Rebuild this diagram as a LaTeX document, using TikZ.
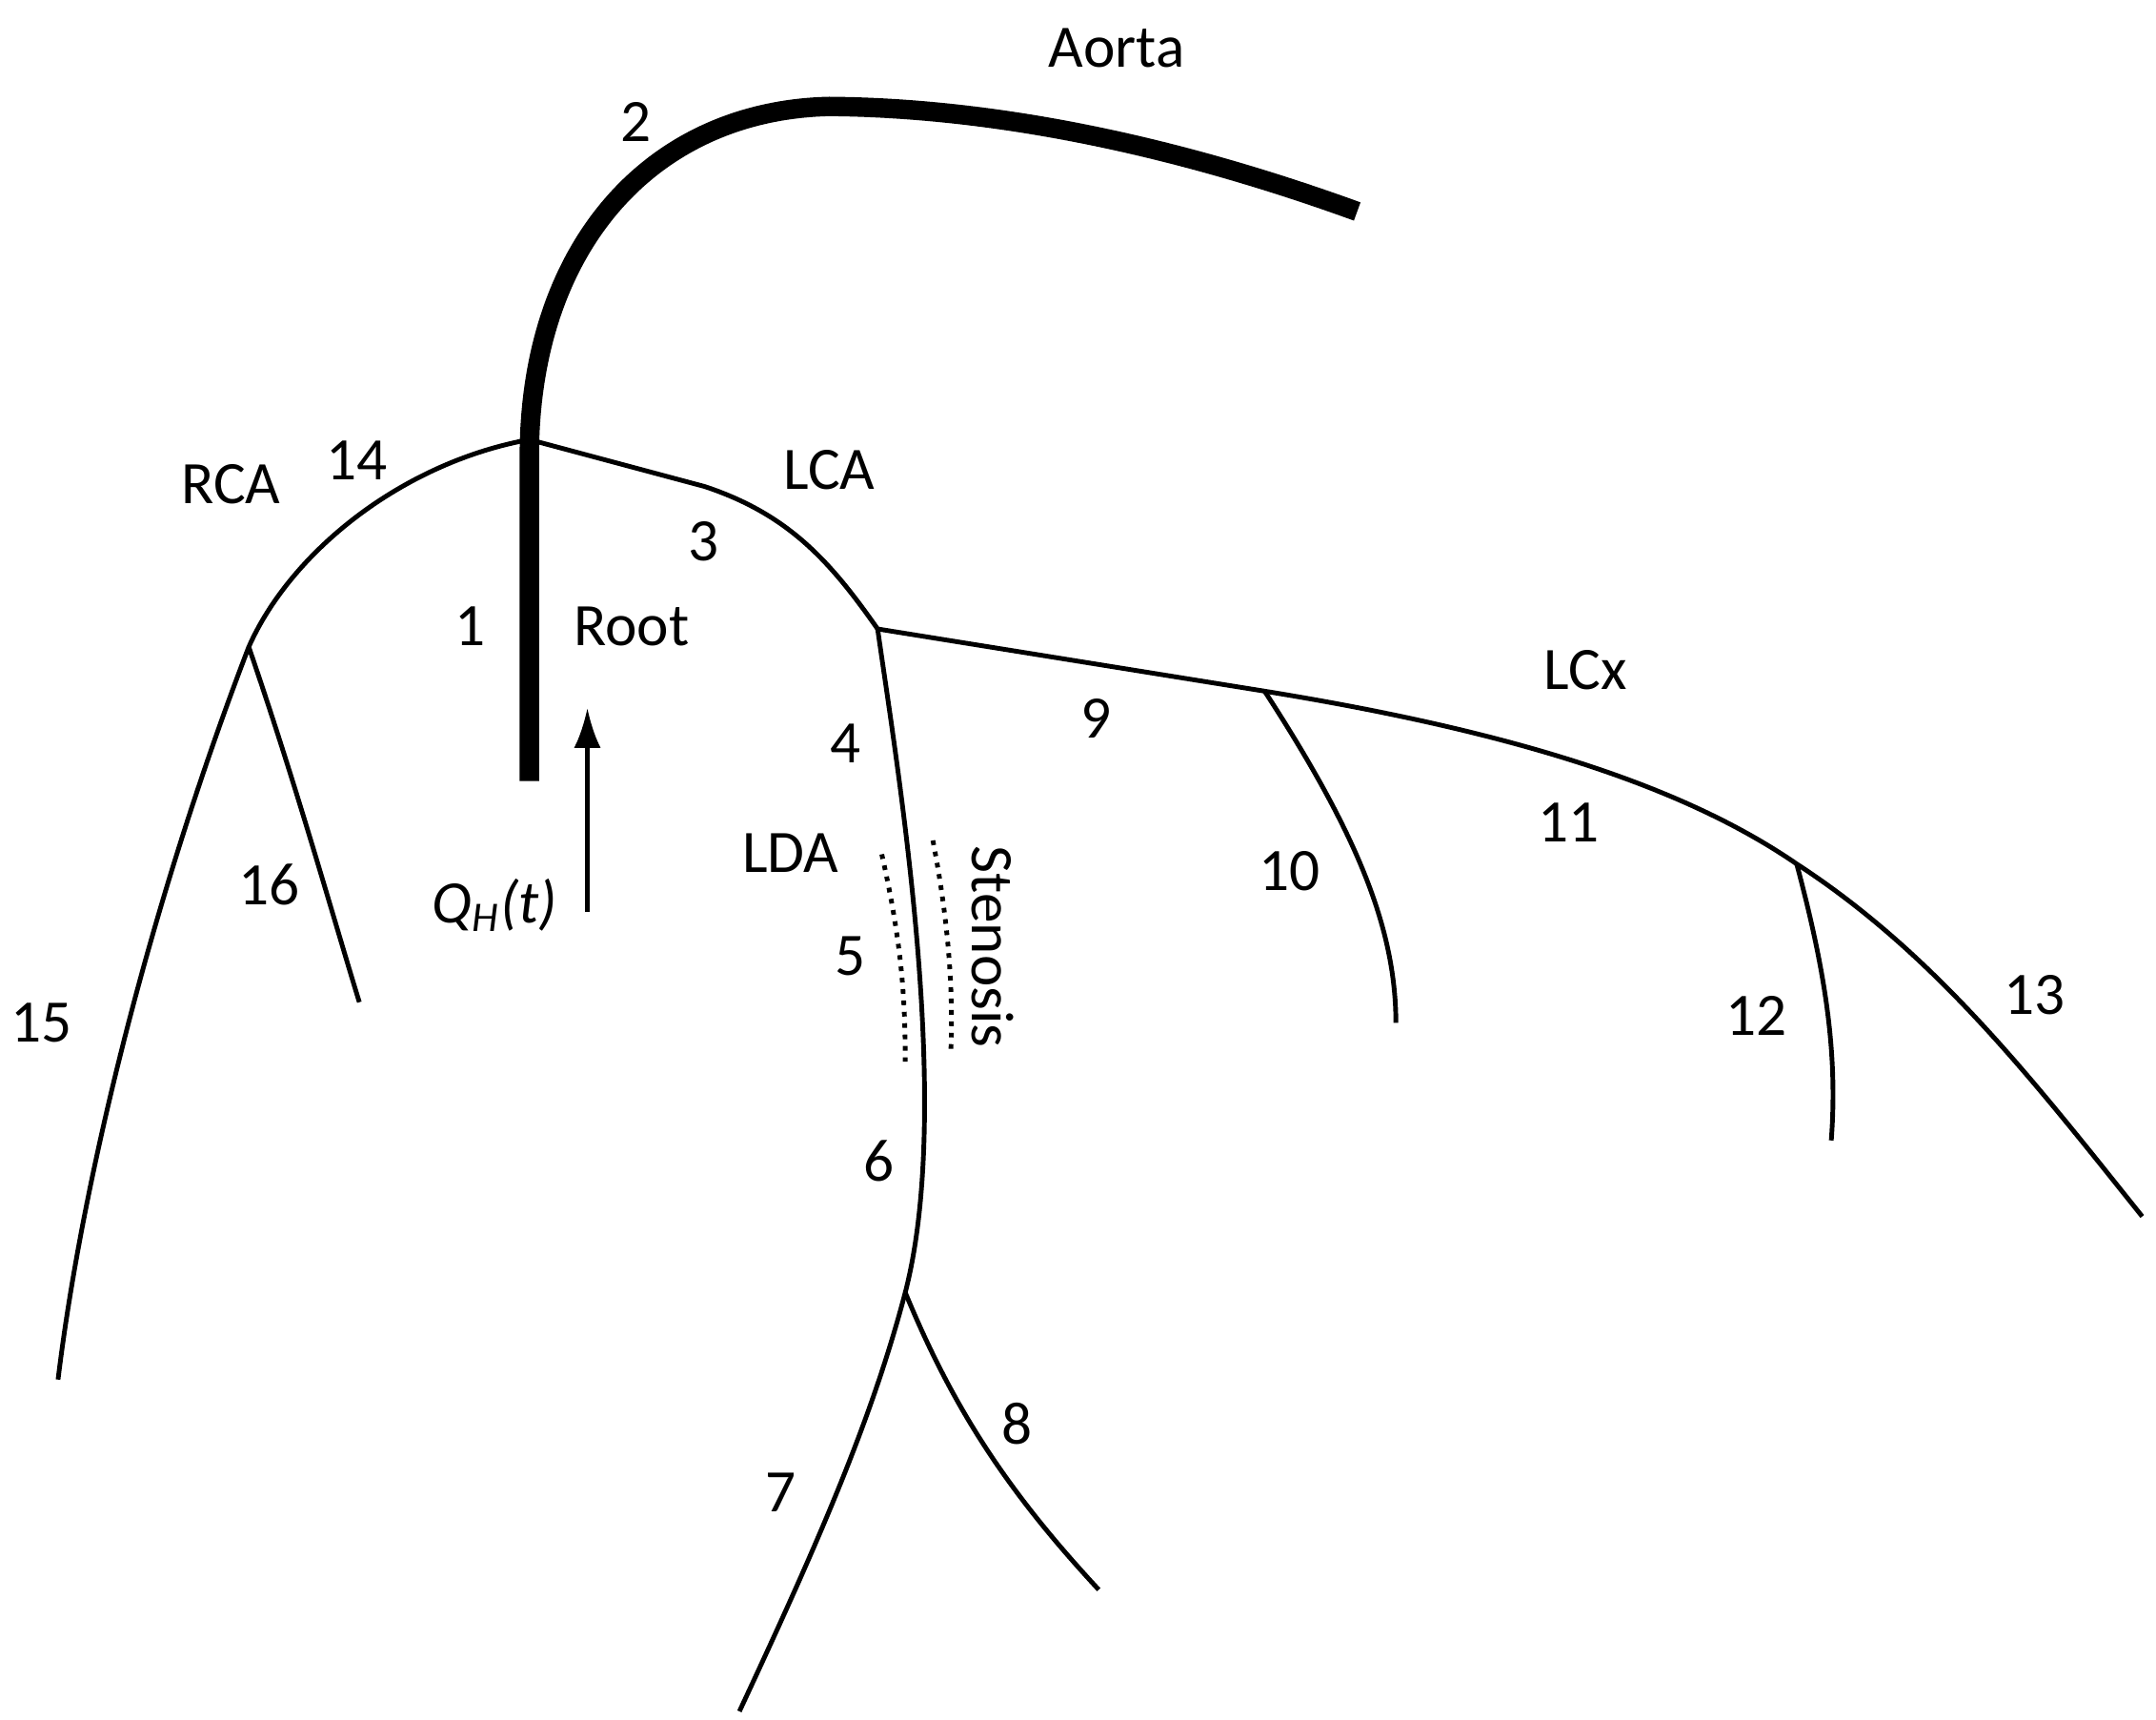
\documentclass[tikz,border=0pt]{standalone}
\usepackage{fontspec}
\setmainfont{Carlito}
\usetikzlibrary{arrows.meta}
\begin{document}
\begin{tikzpicture}[x=0.014506cm,y=-0.014506cm,
 ves/.style={line width=1.4pt},
 lab/.style={font=\fontsize{18}{21}\selectfont, inner sep=0pt}]
\useasboundingbox (0,0) rectangle (1560,1244);
\coordinate (top) at (383,318);
\coordinate (rb) at (180,468);
\coordinate (lb) at (635,455);
\coordinate (db) at (655,935);
\coordinate (cb1) at (915,500);
\coordinate (cb2) at (1300,625);
\draw[line width=5.8pt] (383,565) -- (383,330) .. controls (383,180) and (470,80) .. (600,77) .. controls (720,78) and (850,105) .. (982,153);
\draw[ves] (top) .. controls (290,335) and (210,400) .. (rb) .. controls (110,650) and (60,850) .. (42,998);
\draw[ves] (rb) .. controls (215,570) and (240,660) .. (260,725);
\draw[ves] (top) -- (510,352) .. controls (570,372) and (600,405) .. (lb);
\draw[ves] (lb) .. controls (650,560) and (690,800) .. (db);
\draw[ves] (db) .. controls (630,1030) and (590,1120) .. (535,1238);
\draw[ves] (db) .. controls (690,1020) and (730,1080) .. (795,1150);
\draw[ves] (lb) -- (cb1) .. controls (1100,530) and (1220,570) .. (cb2) .. controls (1400,690) and (1470,780) .. (1550,880);
\draw[ves] (cb1) .. controls (980,600) and (1010,670) .. (1010,740);
\draw[ves] (cb2) .. controls (1320,700) and (1330,760) .. (1325,825);
\draw[line width=1.4pt,dotted] (638,618) .. controls (652,680) and (655,720) .. (655,768);
\draw[line width=1.4pt,dotted] (675,608) .. controls (685,660) and (690,710) .. (688,760);
\draw[line width=1.4pt,-{Latex[length=12pt,width=8pt]}] (425,660) -- (425,512);
\node[lab] at (808,35) {Aorta};
\node[lab] at (460,88) {2};
\node[lab] at (258,333) {14};
\node[lab] at (167,350) {RCA};
\node[lab] at (600,340) {LCA};
\node[lab] at (509,392) {3};
\node[lab] at (340,453) {1};
\node[lab] at (457,453) {Root};
\node[lab] at (612,538) {4};
\node[lab] at (793,520) {9};
\node[lab] at (1147,485) {LCx};
\node[lab] at (572,617) {LDA};
\node[lab,rotate=-90] at (718,685) {Stenosis};
\node[lab] at (615,692) {5};
\node[lab] at (933,630) {10};
\node[lab] at (1135,595) {11};
\node[lab] at (1271,735) {12};
\node[lab] at (1472,720) {13};
\node[lab] at (195,640) {16};
\node[lab] at (30,740) {15};
\node[lab] at (636,840) {6};
\node[lab] at (736,1030) {8};
\node[lab] at (565,1080) {7};
\node[lab] at (358,655) {\textit{Q\textsubscript{H}(t)}};
\end{tikzpicture}
\end{document}
